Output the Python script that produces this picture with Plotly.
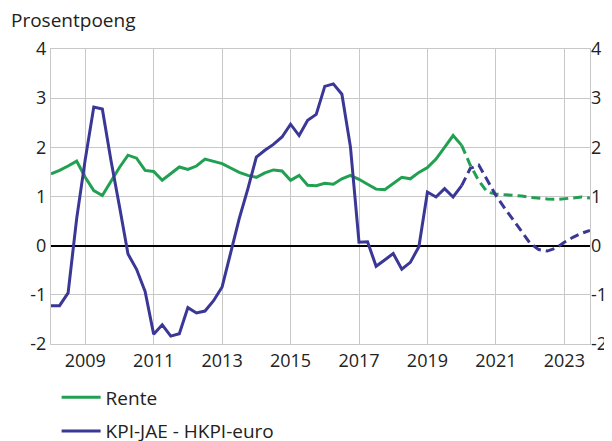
import plotly.graph_objects as go

years = [2008 + i * 0.25 for i in range(64)]

rente = [1.46, 1.53, 1.62, 1.72, 1.39, 1.12, 1.02, 1.31,
         1.59, 1.84, 1.78, 1.53, 1.51, 1.33, 1.46, 1.60,
         1.55, 1.62, 1.76, 1.71, 1.67, 1.58, 1.49, 1.43,
         1.39, 1.48, 1.54, 1.52, 1.33, 1.43, 1.23, 1.22,
         1.27, 1.25, 1.36, 1.43, 1.35, 1.25, 1.15, 1.14,
         1.27, 1.39, 1.36, 1.49, 1.59, 1.76, 2.00, 2.24,
         2.04, 1.64, 1.32, 1.09, 1.05, 1.04, 1.03, 1.01,
         0.98, 0.96, 0.95, 0.94, 0.95, 0.97, 0.99, 0.97]

kpi = [-1.22, -1.22, -0.96, 0.55, 1.75, 2.82, 2.78, 1.74,
       0.80, -0.17, -0.48, -0.93, -1.80, -1.61, -1.84, -1.79,
       -1.26, -1.37, -1.33, -1.12, -0.84, -0.15, 0.55, 1.15,
       1.80, 1.94, 2.06, 2.21, 2.47, 2.24, 2.55, 2.67,
       3.24, 3.29, 3.08, 2.01, 0.07, 0.08, -0.42, -0.29,
       -0.16, -0.48, -0.34, -0.02, 1.09, 0.99, 1.16, 0.99,
       1.22, 1.57, 1.64, 1.33, 1.02, 0.77, 0.53, 0.27,
       0.05, -0.08, -0.11, -0.05, 0.07, 0.17, 0.25, 0.31]

split = 48  # 2020Q1: projections (dashed) start here

tick_years = [2009, 2011, 2013, 2015, 2017, 2019, 2021, 2023]
tick_text = [str(y) for y in tick_years]
y_ticks = [-2, -1, 0, 1, 2, 3, 4]
y_text = ["-2", "-1", "0", "1", "2", "3", "4"]

green = "#22a052"
blue = "#3b3796"
font = "Open Sans"

fig = go.Figure()
fig.add_trace(go.Scatter(x=years[:split + 1], y=rente[:split + 1], mode="lines",
                         name="Rente", legendgroup="a",
                         line=dict(color=green, width=3)))
fig.add_trace(go.Scatter(x=years[split:], y=rente[split:], mode="lines",
                         showlegend=False,
                         line=dict(color=green, width=3, dash="9px,5px")))
fig.add_trace(go.Scatter(x=years[:split + 1], y=kpi[:split + 1], mode="lines",
                         name="KPI-JAE - HKPI-euro", legendgroup="b",
                         line=dict(color=blue, width=3)))
fig.add_trace(go.Scatter(x=years[split:], y=kpi[split:], mode="lines",
                         showlegend=False,
                         line=dict(color=blue, width=3, dash="9px,5px")))
# invisible trace for right axis
fig.add_trace(go.Scatter(x=[years[0]], y=[0], yaxis="y2", mode="lines",
                         showlegend=False, hoverinfo="skip",
                         line=dict(color="rgba(0,0,0,0)")))

# page body has an 8px margin, so the figure is 8px smaller than the window
fig.update_layout(
    width=604, height=433,
    margin=dict(l=43, r=22, t=41, b=97, autoexpand=False),
    paper_bgcolor="white", plot_bgcolor="white",
    font=dict(family=font, size=18, color="#222"),
    showlegend=True,
    legend=dict(x=0.0104, xanchor="left", y=-0.1164, yanchor="top",
                orientation="v", itemwidth=39, traceorder="grouped",
                tracegroupgap=6,
                font=dict(size=19, family=font, color="#222"),
                bgcolor="rgba(0,0,0,0)"),
    xaxis=dict(range=[2008, 2023.75], tickvals=tick_years, ticktext=tick_text,
               showgrid=True, gridcolor="#c8c8c8", gridwidth=1,
               showline=True, linecolor="#c8c8c8", linewidth=1, mirror=True,
               zeroline=False, ticks="", tickfont=dict(size=18), automargin=False),
    yaxis=dict(range=[-2, 4], tickvals=y_ticks, ticktext=y_text, showgrid=True,
               gridcolor="#c8c8c8", gridwidth=1,
               showline=True, linecolor="#c8c8c8", linewidth=1, mirror=True,
               zeroline=True, zerolinecolor="black", zerolinewidth=1.5,
               ticks="", tickfont=dict(size=18), automargin=False),
    yaxis2=dict(range=[-2, 4], tickvals=y_ticks, ticktext=y_text,
                overlaying="y", side="right",
                showgrid=False, zeroline=False, ticks="",
                tickfont=dict(size=18), automargin=False),
    annotations=[dict(text="Prosentpoeng", xref="paper", yref="paper",
                      x=-0.0773, y=1.046, xanchor="left", yanchor="bottom",
                      showarrow=False, font=dict(size=19, family=font, color="#222"))],
)

fig.write_html("out.html")
